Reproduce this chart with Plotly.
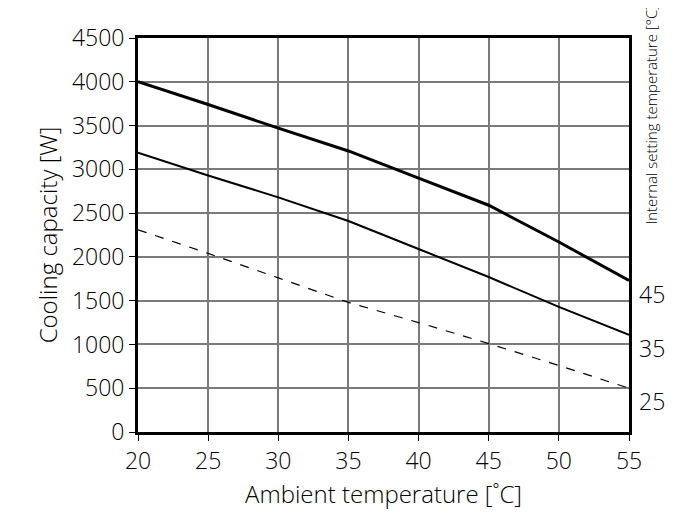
import plotly.graph_objects as go

x = [20, 25, 30, 35, 40, 45, 50, 55]
cap45 = [4000, 3740, 3470, 3210, 2900, 2590, 2170, 1730]
cap35 = [3190, 2930, 2680, 2410, 2090, 1770, 1430, 1110]
cap25 = [2310, 2040, 1760, 1480, 1250, 1010, 760, 500]
set_labels = ["45", "35", "25"]

fig = go.Figure()
fig.add_trace(go.Scatter(x=x, y=cap45, mode="lines", line=dict(color="black", width=3), showlegend=False))
fig.add_trace(go.Scatter(x=x, y=cap35, mode="lines", line=dict(color="black", width=2), showlegend=False))
fig.add_trace(go.Scatter(x=x, y=cap25, mode="lines", line=dict(color="black", width=1.2, dash="dash"), showlegend=False))

for lab, yv in zip(set_labels, [cap45[-1], cap35[-1], cap25[-1]]):
    fig.add_annotation(x=55, y=yv - 150, text=lab, showarrow=False, xanchor="left", xshift=8,
                       font=dict(size=23, color="black", weight=300))
fig.add_annotation(x=1.0, y=1.09, xref="paper", yref="paper", text="Internal setting temperature [°C]",
                   textangle=-90, showarrow=False, xanchor="left", yanchor="top", xshift=10,
                   font=dict(size=15, color="black", family="Open Sans", weight=300))

fig.update_layout(
    width=685, height=523, margin=dict(l=130, r=64, t=30, b=99),
    plot_bgcolor="white", paper_bgcolor="white",
    font=dict(family="Open Sans", size=23, color="black", weight=300),
    xaxis=dict(range=[20, 55], tickvals=x, showgrid=True, gridcolor="#7a7a7a", gridwidth=2,
               showline=True, linecolor="black", linewidth=3, mirror=True, ticks="outside",
               ticklen=6, tickcolor="black", zeroline=False,
               title=dict(text="Ambient temperature [˚C]", font=dict(size=24, weight=300), standoff=12)),
    yaxis=dict(range=[0, 4500], dtick=500, showgrid=True, gridcolor="#7a7a7a", gridwidth=2,
               showline=True, linecolor="black", linewidth=3, mirror=True, ticks="outside",
               ticklen=6, tickcolor="black", zeroline=False,
               title=dict(text="Cooling capacity [W]", font=dict(size=24, weight=300), standoff=8)),
)
fig.write_html("out.html")
